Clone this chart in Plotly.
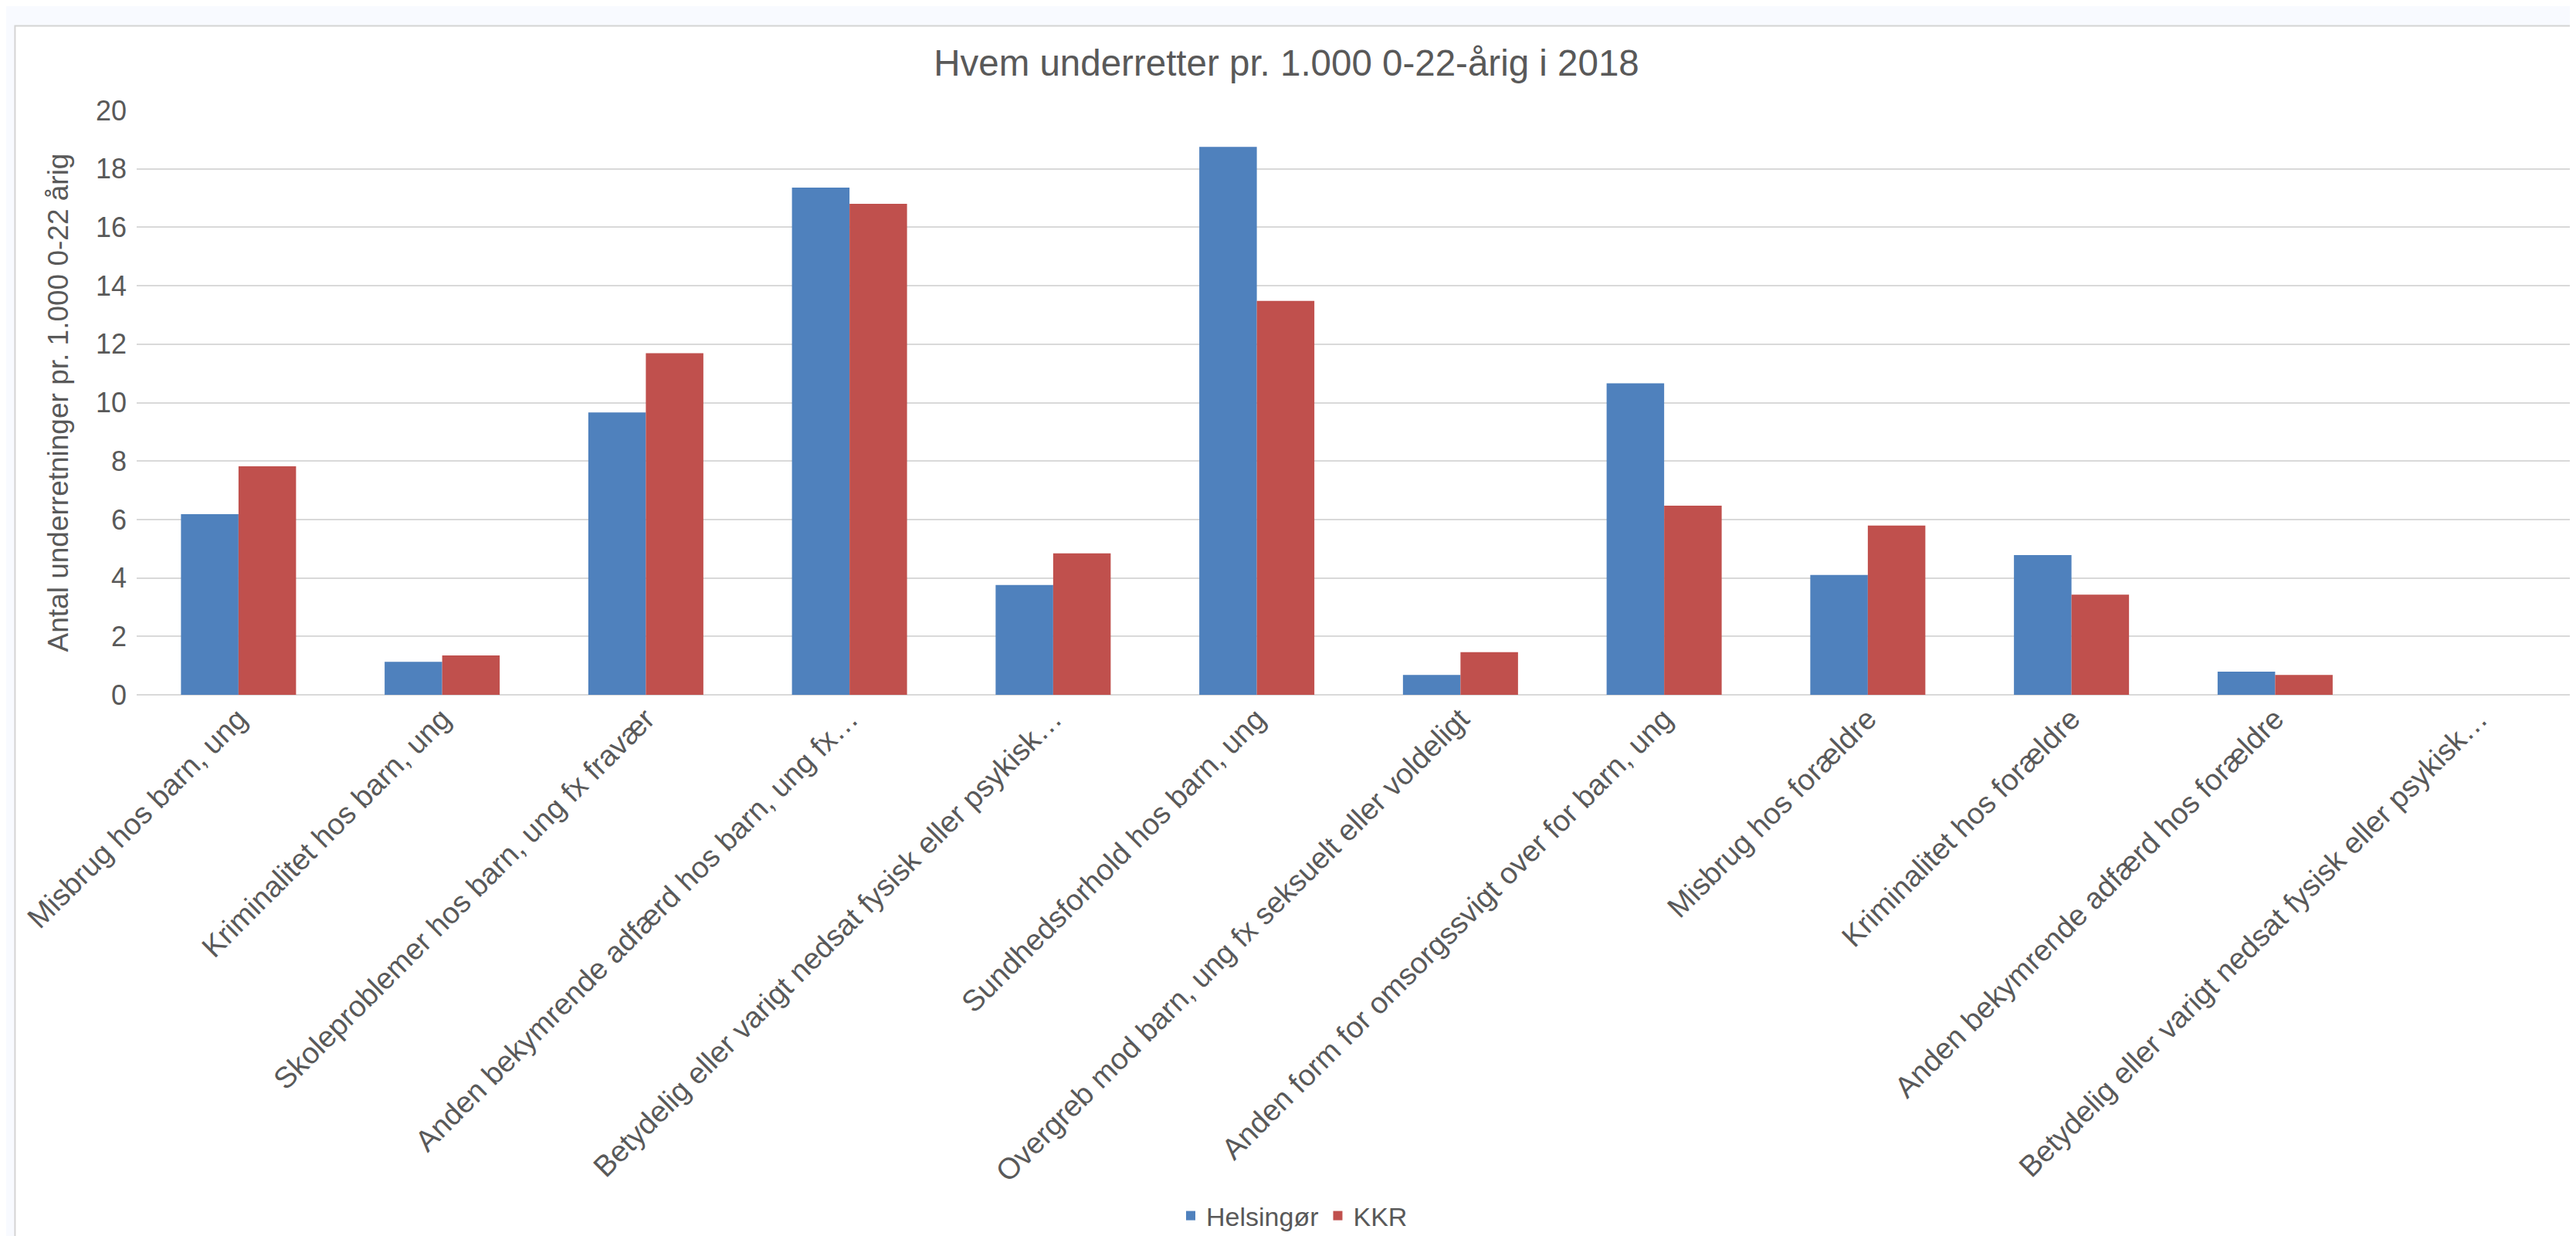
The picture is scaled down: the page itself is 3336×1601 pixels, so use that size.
import plotly.graph_objects as go

C_BLUE  = '#4f81bd'
C_RED   = '#c0504d'
C_TEXT  = '#595959'
C_GRID  = '#d9d9d9'
C_PAGE  = '#f8faff'

categories = [
    'Misbrug hos barn, ung',
    'Kriminalitet hos barn, ung',
    'Skoleproblemer hos barn, ung fx fravær',
    'Anden bekymrende adfærd hos barn, ung fx…',
    'Betydelig eller varigt nedsat fysisk eller psykisk…',
    'Sundhedsforhold hos barn, ung',
    'Overgreb mod barn, ung fx seksuelt eller voldeligt',
    'Anden form for omsorgssvigt over for barn, ung',
    'Misbrug hos forældre',
    'Kriminalitet hos forældre',
    'Anden bekymrende adfærd hos forældre',
    'Betydelig eller varigt nedsat fysisk eller psykisk…',
]
helsingor = [6.18, 1.13, 9.66, 17.36, 3.76, 18.75, 0.68, 10.66, 4.1, 4.78, 0.79, 0]
kkr       = [7.82, 1.35, 11.69, 16.8, 4.84, 13.48, 1.46, 6.47, 5.79, 3.43, 0.68, 0]
y_ticks   = [0, 2, 4, 6, 8, 10, 12, 14, 16, 18, 20]

# same label appears twice, so place bars by position and label the ticks
pos = list(range(len(categories)))

FONT = 'Liberation Sans, Arial, sans-serif'

# plot area in figure pixels (page adds ~8px body margin)
W, H = 3336, 1601
PL, PR, PT, PB = 168.6, 3334, 134.5, 892

fig = go.Figure()
fig.add_trace(go.Bar(x=pos, y=helsingor, name='Helsingør',
                     marker=dict(color=C_BLUE, line=dict(width=0))))
fig.add_trace(go.Bar(x=pos, y=kkr, name='KKR',
                     marker=dict(color=C_RED, line=dict(width=0))))

fig.update_layout(
    width=W, height=H, autosize=False,
    paper_bgcolor=C_PAGE, plot_bgcolor='white',
    font=dict(family=FONT, color=C_TEXT, size=34),
    margin=dict(l=PL, r=W - PR, t=PT, b=H - PB, pad=0),
    barmode='group', bargap=0.435, bargroupgap=0,
    title=dict(text='Hvem underretter pr. 1.000 0-22-årig i 2018',
               font=dict(family=FONT, size=47.5, color=C_TEXT),
               x=0.497, xanchor='center', y=1 - 73 / H, yanchor='middle'),
    xaxis=dict(tickvals=pos, ticktext=categories, tickangle=-45,
               range=[-0.5, len(categories) - 0.5],
               showgrid=False, showline=False, ticks='',
               tickfont=dict(size=38.5, color=C_TEXT)),
    yaxis=dict(range=[0, 20], tickvals=y_ticks, showgrid=True,
               gridcolor=C_GRID, gridwidth=2, zeroline=True,
               zerolinecolor=C_GRID, zerolinewidth=2,
               tickfont=dict(size=36, color=C_TEXT), ticklabelstandoff=12,
               title=dict(text='Antal underretninger pr. 1.000 0-22 årig',
                          font=dict(family=FONT, size=37, color=C_TEXT),
                          standoff=24)),
    legend=dict(orientation='h', xref='container', yref='container',
                x=0.4997, y=1 - 1567 / H, xanchor='center', yanchor='middle',
                font=dict(size=34, color=C_TEXT), bgcolor='rgba(0,0,0,0)',
                itemwidth=30, tracegroupgap=0),
    shapes=[dict(type='rect', xref='paper', yref='paper', layer='below',
                 x0=(19 - 176.6) / (PR - PL), x1=1.2, y0=-1.2,
                 y1=1 + (142.5 - 33) / (PB - PT),
                 fillcolor='white', line=dict(color='#d4d4d4', width=2))],
)

fig.write_html("out.html")
